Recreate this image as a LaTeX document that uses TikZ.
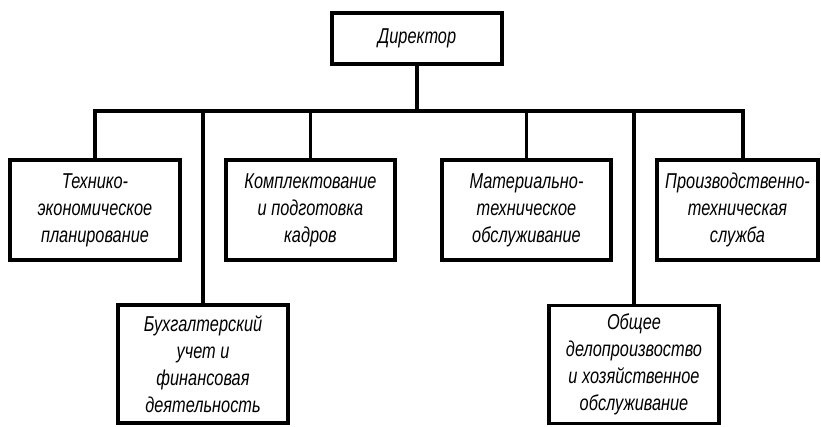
\documentclass[tikz,border=0pt]{standalone}
\usepackage{fontspec}
\setmainfont{Liberation Sans}[FakeStretch=0.76]
\begin{document}
\begin{tikzpicture}[
                x=1pt, y=-1pt,
                line width=3.5pt, line join=miter,
                every node/.style={rectangle, draw, line width=3.5pt, align=center,
                    font=\fontsize{21.5}{27}\selectfont\itshape, inner sep=0pt},
                unit/.style={minimum width=170pt, minimum height=100pt},
                lowunit/.style={minimum width=170pt, minimum height=118pt},
            ]
            \useasboundingbox (0,0) rectangle (821,427);
            \node[minimum width=170pt, minimum height=51pt] (dir) at (417,38.5) {Директор};
            % first row
            \node[unit] (tech) at (95,210) {Технико-\\экономическое\\планирование};
            \node[unit, minimum width=169pt] (kadr) at (310.5,210) {Комплектование\\и подготовка\\кадров};
            \node[unit, minimum width=169pt] (mat) at (526.5,210) {Материально-\\техническое\\обслуживание};
            \node[unit, minimum width=161pt] (prod) at (737.5,210) {Производственно-\\техническая\\служба};
            % second row
            \node[lowunit] (buh) at (203,364) {Бухгалтерский\\учет и\\финансовая\\деятельность};
            \node[lowunit] (obsh) at (634,364.5) {Общее\\делопроизвоство\\и хозяйственное\\обслуживание};
            % bus
            \coordinate (busL) at (tech.north |- 0,111);
            \coordinate (busR) at (743,111);
            \draw (dir.south) -- (dir.south |- busL);
            \draw (tech.north) -- (busL) -- (busR) -- (busR |- prod.north);
            \draw (kadr.north) -- (kadr.north |- busL);
            \draw (mat.north) -- (mat.north |- busL);
            \draw (buh.north) -- (buh.north |- busL);
            \draw (obsh.north) -- (obsh.north |- busL);
            \end{tikzpicture}
\end{document}
